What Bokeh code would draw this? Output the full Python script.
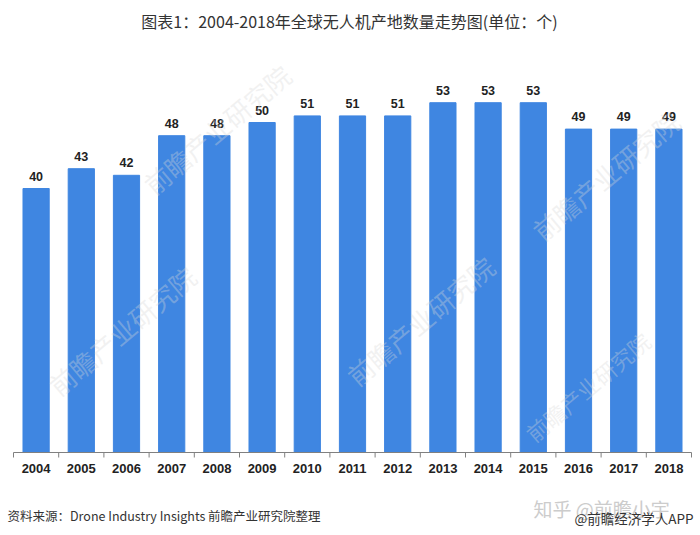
import math
from bokeh.plotting import figure
from bokeh.models import Range1d, Label, ColumnDataSource
from bokeh.embed import file_html
from bokeh.resources import INLINE
from bokeh.core.properties import value

years = ["2004", "2005", "2006", "2007", "2008", "2009", "2010", "2011",
         "2012", "2013", "2014", "2015", "2016", "2017", "2018"]
counts = [40, 43, 42, 48, 48, 50, 51, 51, 51, 53, 53, 53, 49, 49, 49]

title_text = "图表1：2004-2018年全球无人机产地数量走势图(单位：个)"
source_text = "资料来源：Drone Industry Insights 前瞻产业研究院整理"
zhihu_text = "知乎 @前瞻小宇"
app_text = "@前瞻经济学人APP"

n = len(years)
xs = list(range(n))
bounds = [i - 0.5 for i in range(n + 1)]
src = ColumnDataSource(dict(x=xs, y=counts, lab=[str(c) for c in counts], yr=years,
                            zero=[0] * n))

W, H = 700, 535
# plotting frame fills the whole canvas; scales chosen so the category band
# spans the width and the value axis starts at the baseline
x_lo, x_hi = -0.5 - 13 / 45.2, n - 0.5 + 9 / 45.2
y_lo, y_hi = -83 / 6.6, 452 / 6.6
p = figure(width=W, height=H, output_backend="svg", toolbar_location=None,
           x_range=Range1d(x_lo, x_hi), y_range=Range1d(y_lo, y_hi),
           x_axis_location=None, y_axis_location=None, min_border=0)
p.outline_line_color = None
p.xgrid.visible = False
p.ygrid.visible = False
p.background_fill_color = "white"
p.border_fill_color = "white"

p.vbar(x="x", top="y", width=0.58, bottom=0, source=src, color="#3f86e1")

# faint watermarks
wm_cjk = "前瞻产业研究院"
for (wx, wy, fs) in [(4.0, 49, "26px"), (1.9, 18.5, "26px"), (12.6, 42, "26px"),
                     (8.5, 20, "26px"), (12.2, 10, "22px")]:
    p.add_layout(Label(x=wx, y=wy, text=wm_cjk, angle=0.7, text_font="Noto Sans CJK SC",
                       text_font_size=fs, text_color="#d8d8d8", text_alpha=0.35,
                       text_align="center", text_baseline="middle"))

# value labels
p.text(x="x", y="y", text="lab", source=src, y_offset=-8,
       text_align="center", text_baseline="bottom",
       text_font=value("Liberation Sans"), text_font_style="bold",
       text_font_size="12.5px", text_color="#222222")

# category axis: baseline, boundary ticks, year labels
p.segment(x0=[bounds[0]], y0=[0], x1=[bounds[-1]], y1=[0], line_color="#808080", line_width=1)
p.ray(x=bounds, y=[0] * len(bounds), length=5, length_units="screen",
      angle=-math.pi / 2, line_color="#808080", line_width=1)
p.text(x="x", y="zero", text="yr", source=src, y_offset=11,
       text_align="center", text_baseline="top",
       text_font=value("Liberation Sans"), text_font_style="bold",
       text_font_size="13px", text_color="#222222")

# title (screen units from bottom-left of the canvas)
p.add_layout(Label(x=349, y=H - 20, x_units="screen", y_units="screen",
                   text=title_text, text_align="center", text_baseline="middle",
                   text_font="Noto Sans CJK SC", text_font_size="16px",
                   text_color="#333333"))
# source footer
p.add_layout(Label(x=7, y=H - 515, x_units="screen", y_units="screen",
                   text=source_text, text_align="left", text_baseline="middle",
                   text_font="Noto Sans CJK SC", text_font_size="12.5px",
                   text_color="#333333"))
# zhihu watermark
p.add_layout(Label(x=533, y=H - 508, x_units="screen", y_units="screen",
                   text=zhihu_text, text_align="left", text_baseline="middle",
                   text_font="Noto Sans CJK SC", text_font_size="19px",
                   text_color="#cccccc"))
p.add_layout(Label(x=574, y=H - 517, x_units="screen", y_units="screen",
                   text=app_text, text_align="left", text_baseline="middle",
                   text_font="Noto Sans CJK SC", text_font_size="13.5px",
                   text_color="#333333"))

open("out.html", "w").write(file_html(p, INLINE))
